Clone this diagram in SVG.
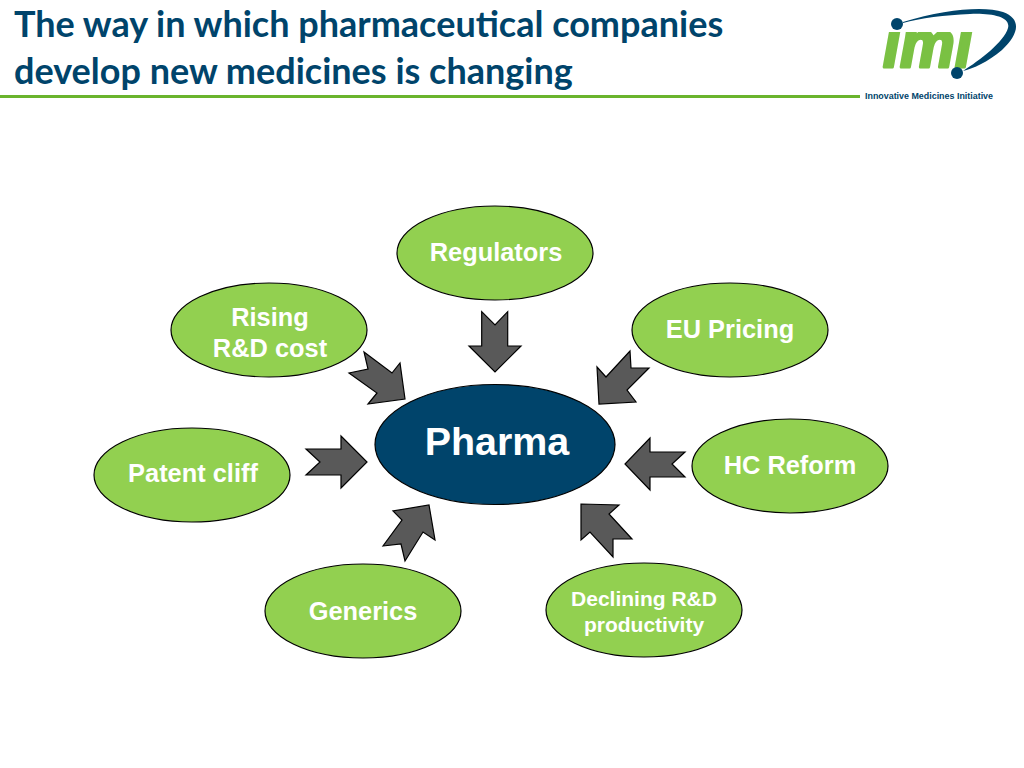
<svg xmlns="http://www.w3.org/2000/svg" width="1024" height="768" viewBox="0 0 1024 768">
<style>
.t{font-family:"Lato","Open Sans",sans-serif;font-weight:700;font-size:36px;fill:#00446b}
.n{fill:#92d050;stroke:#000;stroke-width:1.2}
.l{font-family:"Liberation Sans",Arial,sans-serif;font-weight:700;fill:#fff;text-anchor:middle;font-size:25.4px}
.a{fill:#595959;stroke:#000;stroke-width:1.2;stroke-linejoin:miter}
</style>
<defs><clipPath id="imiclip"><rect x="870" y="32" width="120" height="38"/></clipPath></defs>
<rect width="1024" height="768" fill="#fff"/>
<g id="title">
<text class="t" x="14" y="37">The way in which pharmaceutical companies</text>
<text class="t" x="14" y="84">develop new medicines is changing</text>
<rect x="0" y="95" width="860" height="3" fill="#6ab42d"/>
</g>
<g id="logo">
<path d="M903 22 C945 9 985 6 1003 12 C1022 19 1019 34 1002 50 C988 62 972 69 963 71 C980 60 1004 42 1008 28 C1011 17 992 13 970 14 C945 15 920 18 903 23Z" fill="#00446b"/>
<text x="883" y="67" clip-path="url(#imiclip)" font-family="'Liberation Sans',sans-serif" font-weight="700" font-style="italic" font-size="66" fill="#7ac143" stroke="#7ac143" stroke-width="3" stroke-linejoin="round" textLength="89" lengthAdjust="spacingAndGlyphs">imi</text>
<circle cx="897" cy="24" r="6" fill="#00446b"/>
<circle cx="957" cy="73" r="6" fill="#00446b"/>
<text x="865" y="99" font-family="'Liberation Sans',sans-serif" font-weight="700" font-size="8.600" fill="#00446b" textLength="128" lengthAdjust="spacingAndGlyphs">Innovative Medicines Initiative</text>
</g>
<g id="connectors">
<polygon class="a" points="481.7,311.7 495,325 507.7,311.7 507.7,346 521,346 495,372 469,346 481.7,346"/>
<polygon class="a" points="364,352 392,373 400,363 405,399 368,404 377,393 349,373 368,369"/>
<polygon class="a" points="630,351 631,368 649,368 627,390 636,402 599,404 597,367 606,377"/>
<polygon class="a" points="306,449 341,449 341,436 367,462 341,488 341,475 306,475 320,462"/>
<polygon class="a" points="685,452 650,452 650,438 625,464 650,490 650,477 685,477 672,464"/>
<polygon class="a" points="383,546 401,544 405,561 423,532 435,540 429,505 393,511 402,520"/>
<polygon class="a" points="581,504 619,505 609,514 632,539 613,539 613,557 590,532 581,540"/>
</g>
<g id="regulators"><ellipse class="n" cx="495" cy="253" rx="98" ry="47"/><text class="l" x="496" y="261">Regulators</text></g>
<g id="rising"><ellipse class="n" cx="269" cy="330" rx="98" ry="47"/><text class="l" x="270" y="326">Rising</text><text class="l" x="270" y="357">R&amp;D cost</text></g>
<g id="eu"><ellipse class="n" cx="730" cy="330" rx="98" ry="47"/><text class="l" x="730" y="338">EU Pricing</text></g>
<g id="hc"><ellipse class="n" cx="790" cy="466" rx="98" ry="47"/><text class="l" x="790" y="474">HC Reform</text></g>
<g id="patent"><ellipse class="n" cx="192" cy="475" rx="98" ry="47"/><text class="l" x="193" y="482">Patent cliff</text></g>
<g id="generics"><ellipse class="n" cx="363" cy="611" rx="98" ry="47"/><text class="l" x="363" y="620">Generics</text></g>
<g id="declining"><ellipse class="n" cx="644" cy="610" rx="98" ry="47"/><text class="l" x="644" y="606" style="font-size:21px">Declining R&amp;D</text><text class="l" x="644" y="632" style="font-size:21px">productivity</text></g>
<g id="pharma"><ellipse cx="495" cy="444.500" rx="120" ry="60" fill="#00446b" stroke="#000" stroke-width="1.200"/><text class="l" x="497" y="455" style="font-size:39.400px">Pharma</text></g>
</svg>
